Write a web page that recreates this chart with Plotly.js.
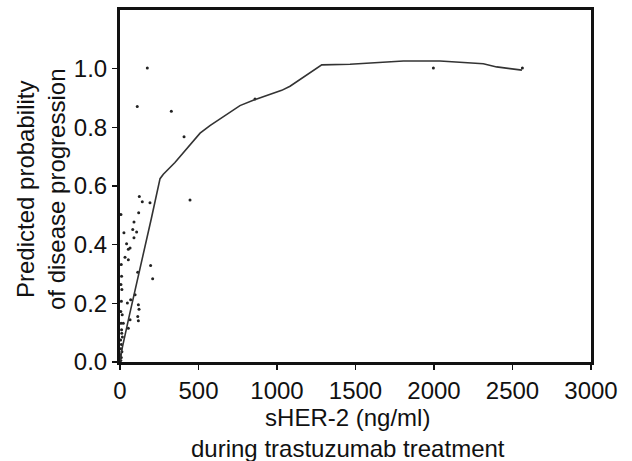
<!DOCTYPE html>
<html>
<head>
<meta charset="utf-8">
<script src="https://cdn.plot.ly/plotly-3.0.1.min.js"></script>
<style>html,body{margin:0;padding:0;background:#fff;}#chart{width:632px;height:461px;}</style>
</head>
<body>
<div id="chart"></div>
<script>
// Fitted curve: predicted probability vs sHER-2
const curveX = [0, 15, 60, 130, 200, 255, 276, 350, 510, 573, 764, 871, 1030, 1083, 1285, 1465, 1805, 2038, 2314, 2399, 2560];
const curveY = [0.005, 0.05, 0.16, 0.32, 0.49, 0.625, 0.64, 0.68, 0.78, 0.806, 0.874, 0.897, 0.926, 0.94, 1.013, 1.015, 1.026, 1.026, 1.017, 1.006, 0.995];

// Observed points
const pointX = [174, 110, 327, 408, 860, 1996, 2563,
  123, 142, 191, 119, 446, 89, 81, 106, 89, 25, 42, 53, 64, 32, 53, 195, 208, 113,
  96, 68, 47, 117, 121, 113, 117, 64, 53, 21, 6,
  8, 10, 6, 12, 9, 5, 14, 7, 11, 4, 9, 6, 12, 3, 8, 15, 5, 10];
const pointY = [1.002, 0.871, 0.855, 0.768, 0.897, 1.002, 1.002,
  0.564, 0.546, 0.543, 0.509, 0.552, 0.477, 0.452, 0.443, 0.424, 0.441, 0.403, 0.384, 0.389, 0.357, 0.349, 0.329, 0.284, 0.306,
  0.229, 0.212, 0.201, 0.195, 0.18, 0.155, 0.141, 0.144, 0.115, 0.132, 0.503,
  0.332, 0.292, 0.264, 0.247, 0.207, 0.172, 0.161, 0.132, 0.098, 0.075, 0.06, 0.045, 0.035, 0.025, 0.015, 0.085, 0.005, 0.11];

const xTicks = [0, 500, 1000, 1500, 2000, 2500, 3000];
const yTicks = [0, 0.2, 0.4, 0.6, 0.8, 1.0];
const yTickText = ['0.0', '0.2', '0.4', '0.6', '0.8', '1.0'];
const xTitle = 'sHER-2 (ng/ml)<br>during trastuzumab treatment';
const yTitle = 'Predicted probability<br>of disease progression';

const font = {family: '"Liberation Sans", Arial, sans-serif', size: 24, color: '#111'};

const traces = [
  {x: pointX, y: pointY, type: 'scatter', mode: 'markers',
   marker: {size: 3, color: '#222'}, hoverinfo: 'skip', showlegend: false},
  {x: curveX, y: curveY, type: 'scatter', mode: 'lines',
   line: {color: '#333', width: 1.6}, hoverinfo: 'skip', showlegend: false}
];

const layout = {
  width: 632, height: 461,
  margin: {l: 120, r: 41, t: 10, b: 99},
  paper_bgcolor: '#fff', plot_bgcolor: '#fff',
  font: font,
  showlegend: false,
  xaxis: {
    range: [0, 3000], tickvals: xTicks, ticktext: xTicks.map(String),
    showgrid: false, zeroline: false,
    showline: true, mirror: true, linecolor: '#111', linewidth: 3,
    ticks: 'outside', ticklen: 5, tickwidth: 1.2, tickcolor: '#111',
    tickfont: font
  },
  yaxis: {
    range: [0, 1.2], tickvals: yTicks, ticktext: yTickText,
    showgrid: false, zeroline: false,
    showline: true, mirror: true, linecolor: '#111', linewidth: 3,
    ticks: 'outside', ticklen: 5, tickwidth: 1.2, tickcolor: '#111',
    tickfont: font
  },
  annotations: [
    {text: xTitle, xref: 'paper', yref: 'paper', x: (348 - 120) / 471, y: (362 - 402) / 352,
     xanchor: 'center', yanchor: 'top', showarrow: false, font: font, align: 'center'},
    {text: yTitle, xref: 'paper', yref: 'paper', x: (41 - 120) / 471, y: (362 - 190) / 352,
     xanchor: 'center', yanchor: 'middle', textangle: -90, showarrow: false, font: font, align: 'center'}
  ]
};

Plotly.newPlot('chart', traces, layout, {staticPlot: true, displayModeBar: false});
</script>
</body>
</html>
